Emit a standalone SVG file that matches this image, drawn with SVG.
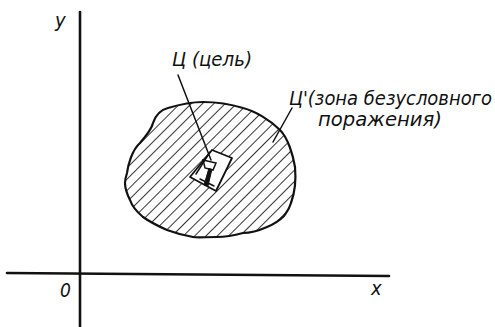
<svg xmlns="http://www.w3.org/2000/svg" width="495" height="327" viewBox="0 0 495 327">
<defs>
<style>
.t{font-family:"DejaVu Sans Condensed","DejaVu Sans",sans-serif;font-style:italic;fill:#111;}
.ax{stroke:#111;stroke-width:2.6;fill:none;stroke-linecap:round}
.ln{stroke:#111;stroke-width:1.5;fill:none;stroke-linecap:round}
.ol{stroke:#111;stroke-width:2.2;fill:url(#hatch)}
</style>
<pattern id="hatch" patternUnits="userSpaceOnUse" width="8" height="8" patternTransform="rotate(45)">
<rect width="8" height="8" fill="#fff"/>
<line x1="0" y1="0" x2="0" y2="8" stroke="#111" stroke-width="1.7"/>
</pattern>
</defs>
<rect width="495" height="327" fill="#fff"/>
<g id="axes">
<line class="ax" x1="80" y1="12" x2="80" y2="327"/>
<line class="ax" x1="7" y1="273" x2="389" y2="276"/>
<text class="t" x="55" y="27" font-size="20">y</text>
<text class="t" x="60" y="297" font-size="19">0</text>
<text class="t" x="371" y="295" font-size="20">x</text>
</g>
<g id="zone">
<path class="ol" d="M127,173 C128,165 132,150 140,143 C146,136 152,128 153,123 C155,117 160,110 168,108 C178,105 190,102 203,102 C215,102 230,104 243,108 C255,111 270,120 280,130 C288,138 293,155 295,167 C296,178 295,192 291,203 C289,210 286,213 284,216 C280,220 272,225 267,227 C258,231 250,233 243,233 C232,236 225,237 217,237 C205,237 198,238 193,237 C182,235 175,233 167,230 C158,226 150,222 143,217 C136,211 132,206 130,200 C127,194 125,188 125,183 C125,179 126,176 127,173 Z"/>
</g>
<g id="target">
<path d="M212,150 L232,158 L216,191 L190,177 Z" fill="#fff" stroke="#111" stroke-width="1.8" stroke-linejoin="round"/>
<path class="ln" d="M196,174 L210,152"/>
<path class="ln" d="M203,160 L216,163 L213,170 L205,168 Z" fill="#fff"/>
<path d="M209,168 L204,185 L208,186 L212,169" fill="#111" stroke="#111" stroke-width="1"/>
<path class="ln" d="M200,179 L214,186"/>
</g>
<g id="connectors">
<line class="ln" x1="178" y1="75" x2="211" y2="160"/>
<line class="ln" x1="292" y1="108" x2="273" y2="142"/>
</g>
<g id="labels">
<text class="t" x="172" y="66" font-size="19" textLength="80" lengthAdjust="spacingAndGlyphs">Ц (цель)</text>
<text class="t" x="289" y="105" font-size="19" textLength="203" lengthAdjust="spacingAndGlyphs">Ц'(зона безусловного</text>
<text class="t" x="318" y="126" font-size="19" textLength="124" lengthAdjust="spacingAndGlyphs">поражения)</text>
</g>
</svg>
